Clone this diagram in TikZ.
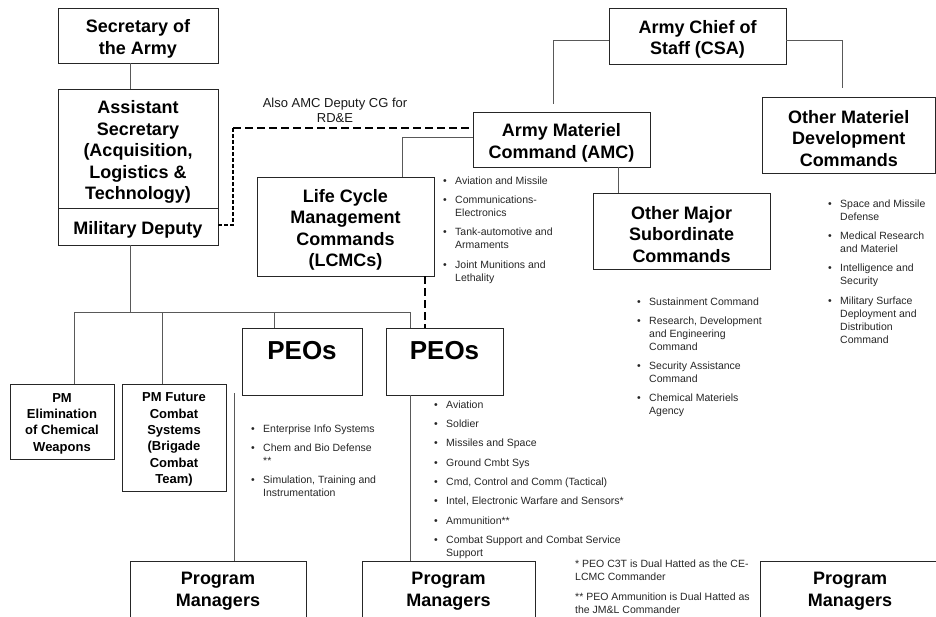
\documentclass[tikz,border=0pt]{standalone}
\usepackage{fontspec}
\setmainfont{Liberation Sans}
\usetikzlibrary{calc}
\newcommand\obox[7][]{\node[box,minimum width={(#4)-(#2)},minimum height={(#5)-(#3)}] (#6) at ({((#2)+(#4))/2},{((#3)+(#5))/2}) {};
  \node[boxtext,#1] (#6-t) at ([yshift=-3.5pt]#6.center) {#7};}
\newcommand\blist[1]{\fontsize{10.5}{13}\selectfont\begin{tabular}{@{}p{12pt}@{}l@{}}#1\end{tabular}}
\newcommand\flist[1]{\fontsize{10.5}{13}\selectfont\begin{tabular}{@{}l@{}}#1\end{tabular}}
\newcommand\bu{\textbullet}
\tikzset{
  box/.style={draw=black!85,line width=0.8pt,fill=white,inner sep=0pt},
  boxtext/.style={inner sep=0pt,align=center,font=\bfseries\fontsize{18}{21.5}\selectfont},
  pmbox/.style={font=\bfseries\fontsize{13}{16.3}\selectfont,yshift=1.5pt},
  pmgr/.style={yshift=2pt},
  peotext/.style={inner sep=0pt,anchor=base,font=\bfseries\fontsize{26}{30}\selectfont},
  conn/.style={draw=black!65,line width=0.8pt},
  thickdash/.style={draw=black,line width=2.5pt,dash pattern=on 8pt off 4pt},
  thindash/.style={draw=black,line width=1.5pt,dash pattern=on 4pt off 2pt},
  listnode/.style={anchor=north west,inner sep=0pt,text=black!85,align=left},
}
\begin{document}
\begin{tikzpicture}[x=1pt,y=-1pt]
\useasboundingbox (0,0) rectangle (936,616);
% boxes
\obox{58}{8}{218}{63}{sec}{Secretary of\\the Army}
\obox{58}{89}{218}{208}{asa}{Assistant\\Secretary\\(Acquisition,\\Logistics \&\\Technology)}
\obox{58}{208}{218}{245}{mildep}{Military Deputy}
\obox{609}{8}{786}{64}{csa}{Army Chief of\\Staff (CSA)}
\obox{473}{112}{650}{167}{amc}{Army Materiel\\Command (AMC)}
\obox{762}{97}{935.5}{173}{omdc}{Other Materiel\\Development\\Commands}
\obox{593}{193}{770}{269}{omsc}{Other Major\\Subordinate\\Commands}
\obox{257}{177}{434}{276}{lcmc}{Life Cycle\\Management\\Commands\\(LCMCs)}
\obox[pmbox]{10}{384}{114}{459}{pmelim}{PM\\Elimination\\of Chemical\\Weapons}
\obox[pmbox]{122}{384}{226}{491}{pmfcs}{PM Future\\Combat\\Systems\\(Brigade\\Combat\\Team)}
\obox{242}{328}{362}{395}{peoA}{}
\obox{386}{328}{503}{395}{peoB}{}
\node[peotext] (peoAt) at ([yshift=-32pt]peoA.north) {PEOs};
\node[peotext] (peoBt) at ([yshift=-32pt]peoB.north) {PEOs};
\obox[pmgr]{130}{561}{306}{618}{pmA}{Program\\Managers}
\obox[pmgr]{362}{561}{535}{618}{pmB}{Program\\Managers}
\obox[pmgr]{760}{561}{940}{618}{pmC}{Program\\Managers}
% label
\node[inner sep=0pt,anchor=north,align=center,font=\fontsize{13}{15}\selectfont,text=black!90] (also) at (335,98) {Also AMC Deputy CG for\\RD\&E};
% coordinates
\coordinate (bus) at (130,312);
\coordinate (d1) at (74,312);
\coordinate (d2) at (162,312);
\coordinate (d3) at (274,312);
\coordinate (d4) at (410,312);
\coordinate (c0) at (233,225);
\coordinate (c1) at (233,128);
\coordinate (c2) at (402,137);
\coordinate (c3) at (553,40);
\coordinate (c4) at (842,40);
\coordinate (c5) at (618,0);
\coordinate (c6) at (425,0);
\coordinate (c7) at (234,393);
\coordinate (c8) at (410,0);
% connectors
\draw[conn] (sec.south -| bus) -- (asa.north -| bus);
\draw[conn] (mildep.south -| bus) -- (bus);
\draw[conn] (d1) -- (d4);
\draw[conn] (d1) -- (d1 |- pmelim.north);
\draw[conn] (d2) -- (d2 |- pmfcs.north);
\draw[conn] (d3) -- (d3 |- peoA.north);
\draw[conn] (d4) -- (d4 |- peoB.north);
\draw[thindash] (c0 -| mildep.east) -- (c0) -- (c1);
\draw[thickdash] (c1) -- (c1 -| amc.west);
\draw[conn] (c2 -| amc.west) -- (c2) -- (c2 |- lcmc.north);
\draw[conn,shorten >=8pt] (c3 -| csa.west) -- (c3) -- (c3 |- amc.north);
\draw[conn,shorten >=9pt] (c4 -| csa.east) -- (c4) -- (c4 |- omdc.north);
\draw[conn] (c5 |- amc.south) -- (c5 |- omsc.north);
\draw[thickdash] (c6 |- lcmc.south) -- (c6 |- peoB.north);
\draw[conn] (c7) -- (c7 |- pmA.north);
\draw[conn] (c8 |- peoB.south) -- (c8 |- pmB.north);
% lists
\node[listnode] (lcmcList) at (443,175) {\blist{
\bu & Aviation and Missile\\[6.3pt]
\bu & Communications-\\ & Electronics\\[6.3pt]
\bu & Tank-automotive and\\ & Armaments\\[6.3pt]
\bu & Joint Munitions and\\ & Lethality}};
\node[listnode] (peoAList) at (251,423) {\blist{
\bu & Enterprise Info Systems\\[6.3pt]
\bu & Chem and Bio Defense\\ & **\\[6.3pt]
\bu & Simulation, Training and\\ & Instrumentation}};
\node[listnode] (peoBList) at (434,399) {\blist{
\bu & Aviation\\[6.3pt]
\bu & Soldier\\[6.3pt]
\bu & Missiles and Space\\[6.3pt]
\bu & Ground Cmbt Sys\\[6.3pt]
\bu & Cmd, Control and Comm (Tactical)\\[6.3pt]
\bu & Intel, Electronic Warfare and Sensors*\\[6.3pt]
\bu & Ammunition**\\[6.3pt]
\bu & Combat Support and Combat Service\\ & Support}};
\node[listnode] (omscList) at (637,296) {\blist{
\bu & Sustainment Command\\[6pt]
\bu & Research, Development\\ & and Engineering\\ & Command\\[6pt]
\bu & Security Assistance\\ & Command\\[6pt]
\bu & Chemical Materiels\\ & Agency}};
\node[listnode] (omdcList) at (828,198) {\blist{
\bu & Space and Missile\\ & Defense\\[6.3pt]
\bu & Medical Research\\ & and Materiel\\[6.3pt]
\bu & Intelligence and\\ & Security\\[6.3pt]
\bu & Military Surface\\ & Deployment and\\ & Distribution\\ & Command}};
\node[listnode] (notes) at (575,558.5) {\flist{
* PEO C3T is Dual Hatted as the CE-\\LCMC Commander\\[7pt]
** PEO Ammunition is Dual Hatted as\\the JM\&L Commander}};
\end{tikzpicture}
\end{document}
